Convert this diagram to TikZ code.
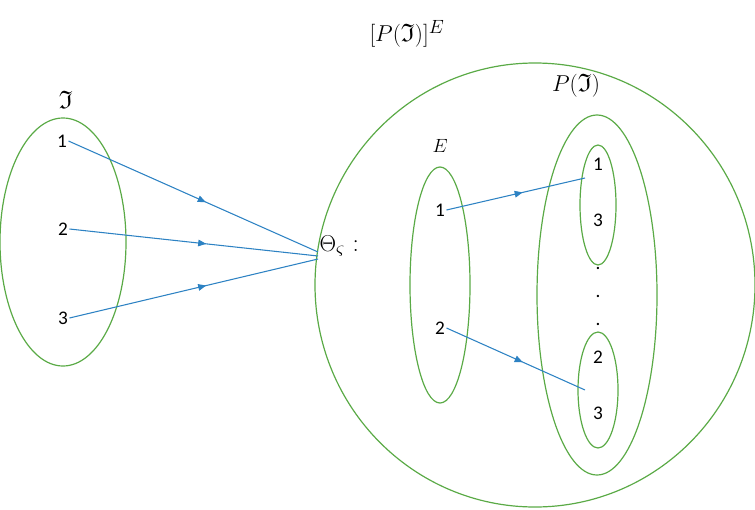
\documentclass[tikz,border=0pt]{standalone}
\usepackage{amssymb}
\usepackage{fontspec}
\newfontfamily\calfont{Carlito}
\usetikzlibrary{decorations.markings,arrows.meta}
\definecolor{gr}{RGB}{90,170,70}
\definecolor{bl}{RGB}{45,130,195}
\tikzset{
 set/.style={draw=gr,line width=0.9pt},
 num/.style={font=\calfont\fontsize{14.5}{14.5}\selectfont,inner sep=1pt},
 lab/.style={font=\fontsize{19}{19}\selectfont,inner sep=1pt},
 arr/.style={draw=bl,line width=0.8pt,postaction={decorate},
   decoration={markings,mark=at position 0.55 with {\arrow{Triangle[length=6pt,width=5pt]}}}}
}
\begin{document}
\begin{tikzpicture}[x=0.02645cm,y=-0.02645cm]
\useasboundingbox (0,0) rectangle (755,509);
% sets
\draw[set] (63,242) ellipse[x radius=63,y radius=124];
\draw[set] (535,285) ellipse[x radius=220,y radius=222];
\draw[set] (440,285) ellipse[x radius=30,y radius=118];
\draw[set] (597,295) ellipse[x radius=60,y radius=180];
\draw[set] (598,205) ellipse[x radius=18,y radius=60];
\draw[set] (598,390) ellipse[x radius=20,y radius=58];
% labels
\node[lab] (I) at (66,100) {$\mathfrak{I}$};
\node[lab] (PIE) at (407,34) {$[P(\mathfrak{I})]^E$};
\node[lab] (PI) at (576,86) {$P(\mathfrak{I})$};
\node[lab,font=\fontsize{15}{15}\selectfont] (E) at (440,146) {$E$};
\node[lab,anchor=west] (T) at (318,246) {$\Theta_{\varsigma}$ :};
% numbers
\node[num] (a1) at (62,141) {1};
\node[num] (a2) at (63,229) {2};
\node[num] (a3) at (63,318) {3};
\node[num] (e1) at (440,210) {1};
\node[num] (e2) at (440,328) {2};
\node[num] (p1) at (598,164) {1};
\node[num] (p3) at (598,220) {3};
\node[num] (q2) at (598,357) {2};
\node[num] (q3) at (598,413) {3};
\node[num] (d1) at (598,268) {.};
\node[num] (d2) at (598,296) {.};
\node[num] (d3) at (598,324) {.};
% connector endpoints
\coordinate (t1) at (318,252);
\coordinate (t2) at (318,256);
\coordinate (t3) at (318,259);
\coordinate (s1) at (585,178);
\coordinate (s2) at (585,390);
\draw[arr] (a1.east) -- (t1);
\draw[arr] (a2.east) -- (t2);
\draw[arr] (a3.east) -- (t3);
\draw[arr] (e1.east) -- (s1);
\draw[arr] (e2.east) -- (s2);
\end{tikzpicture}
\end{document}
